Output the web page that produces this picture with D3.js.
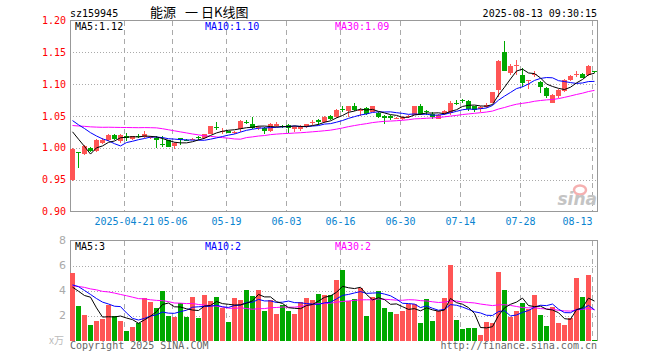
<!DOCTYPE html>
<html>
<head>
<meta charset="utf-8">
<script src="https://cdn.jsdelivr.net/npm/d3@7"></script>
<style>
body { margin: 0; background: #fff; }
svg { display: block; }
</style>
</head>
<body>
<svg></svg>
<script>
// trading days shown, 2025-04-08 .. 2025-08-13
const dates = [
	"2025-04-08","2025-04-09","2025-04-10","2025-04-11","2025-04-14","2025-04-15","2025-04-16","2025-04-17","2025-04-18",
	"2025-04-21","2025-04-22","2025-04-23","2025-04-24","2025-04-25","2025-04-28","2025-04-29","2025-04-30",
	"2025-05-06","2025-05-07","2025-05-08","2025-05-09","2025-05-12","2025-05-13","2025-05-14","2025-05-15","2025-05-16",
	"2025-05-19","2025-05-20","2025-05-21","2025-05-22","2025-05-23","2025-05-26","2025-05-27","2025-05-28","2025-05-29","2025-05-30",
	"2025-06-03","2025-06-04","2025-06-05","2025-06-06","2025-06-09","2025-06-10","2025-06-11","2025-06-12","2025-06-13",
	"2025-06-16","2025-06-17","2025-06-18","2025-06-19","2025-06-20","2025-06-23","2025-06-24","2025-06-25","2025-06-26","2025-06-27",
	"2025-06-30","2025-07-01","2025-07-02","2025-07-03","2025-07-04","2025-07-07","2025-07-08","2025-07-09","2025-07-10","2025-07-11",
	"2025-07-14","2025-07-15","2025-07-16","2025-07-17","2025-07-18","2025-07-21","2025-07-22","2025-07-23","2025-07-24","2025-07-25",
	"2025-07-28","2025-07-29","2025-07-30","2025-07-31","2025-08-01","2025-08-04","2025-08-05","2025-08-06","2025-08-07","2025-08-08",
	"2025-08-11","2025-08-12","2025-08-13"
];

const opens = [
	0.950,0.993,0.990,1.000,0.995,1.008,1.012,1.020,1.010,1.019,
	1.014,1.018,1.017,1.015,1.016,1.006,1.012,1.003,1.015,1.013,
	1.013,1.017,1.015,1.022,1.033,1.026,1.026,1.024,1.029,1.041,
	1.038,1.031,1.031,1.026,1.034,1.035,1.036,1.029,1.030,1.032,
	1.040,1.044,1.040,1.050,1.048,1.061,1.058,1.066,1.058,1.062,
	1.057,1.054,1.050,1.050,1.046,1.045,1.049,1.052,1.065,1.058,
	1.053,1.046,1.053,1.054,1.071,1.075,1.074,1.065,1.061,1.064,
	1.071,1.091,1.150,1.117,1.129,1.115,1.105,1.115,1.104,1.094,
	1.071,1.082,1.089,1.106,1.115,1.116,1.114,1.120
];
const closes = [
	0.998,0.992,1.003,0.995,1.012,1.013,1.020,1.014,1.020,1.016,
	1.018,1.017,1.022,1.017,1.012,1.005,1.002,1.008,1.012,1.012,
	1.014,1.016,1.021,1.034,1.032,1.027,1.024,1.025,1.042,1.040,
	1.031,1.032,1.026,1.038,1.037,1.034,1.031,1.032,1.034,1.037,
	1.041,1.040,1.049,1.045,1.060,1.060,1.065,1.059,1.060,1.053,
	1.065,1.049,1.047,1.047,1.047,1.049,1.050,1.065,1.053,1.057,
	1.048,1.052,1.058,1.071,1.070,1.074,1.061,1.060,1.064,1.068,
	1.087,1.136,1.121,1.129,1.130,1.102,1.106,1.116,1.095,1.082,
	1.083,1.091,1.107,1.113,1.116,1.110,1.128,1.119
];
const highs = [
	1.000,0.994,1.005,1.002,1.014,1.016,1.021,1.021,1.022,1.023,
	1.019,1.021,1.026,1.019,1.018,1.019,1.013,1.009,1.016,1.014,
	1.015,1.018,1.022,1.035,1.040,1.031,1.027,1.027,1.044,1.043,
	1.048,1.034,1.032,1.039,1.040,1.036,1.037,1.034,1.036,1.038,
	1.043,1.045,1.050,1.052,1.061,1.066,1.066,1.071,1.062,1.064,
	1.066,1.056,1.051,1.051,1.048,1.050,1.051,1.066,1.069,1.060,
	1.056,1.053,1.059,1.073,1.075,1.077,1.075,1.066,1.065,1.070,
	1.088,1.138,1.168,1.131,1.138,1.125,1.107,1.120,1.105,1.095,
	1.084,1.092,1.108,1.114,1.120,1.117,1.130,1.121
];
const lows = [
	0.948,0.969,0.989,0.993,0.994,1.006,1.011,1.012,1.008,1.011,
	1.013,1.015,1.016,1.014,0.999,1.002,1.001,0.998,1.004,1.011,
	1.012,1.013,1.014,1.021,1.028,1.022,1.023,1.021,1.025,1.037,
	1.030,1.028,1.022,1.025,1.033,1.031,1.024,1.025,1.026,1.031,
	1.036,1.036,1.039,1.044,1.047,1.057,1.048,1.058,1.050,1.052,
	1.056,1.047,1.037,1.044,1.045,1.043,1.047,1.051,1.052,1.052,
	1.045,1.045,1.052,1.052,1.068,1.071,1.058,1.057,1.057,1.062,
	1.070,1.080,1.120,1.115,1.115,1.095,1.093,1.112,1.086,1.078,
	1.070,1.079,1.088,1.105,1.112,1.109,1.113,1.118
];
// volume, x万
const volumes = [
	5.39,2.75,2.08,1.23,1.60,1.71,2.88,2.00,1.60,0.80,
	1.07,1.41,3.39,3.07,2.59,3.95,2.00,1.87,2.99,1.87,
	3.47,1.79,3.68,3.20,3.47,2.61,1.52,3.39,3.28,4.08,
	3.60,4.08,2.40,3.28,2.16,2.88,2.40,2.16,3.12,3.44,
	3.28,3.76,3.68,3.68,4.88,5.68,3.17,3.36,4.21,2.00,
	3.52,4.00,2.64,2.32,2.16,2.40,2.93,2.93,1.44,3.36,
	1.60,2.40,3.39,6.08,1.68,0.96,1.04,1.04,0.48,1.52,
	1.44,5.52,4.08,1.92,2.40,3.04,2.53,3.68,2.08,1.20,
	2.72,1.44,1.28,1.84,5.04,3.52,5.28,0.08
];
// 29 sessions before the first candle (only feed the moving averages)
const priorCloses = [
	1.015,1.020,1.018,1.025,1.022,1.016,1.020,1.024,1.019,1.023,1.021,1.017,1.022,1.020,
	1.045,1.052,1.058,1.062,1.060,1.065,1.058,1.062,1.060,1.064,1.058,
	1.050,1.060,1.055,0.963
];
const priorVolumes = [
	5.1,4.3,4.8,3.9,5.4,4.2,4.7,5.0,3.8,4.5,4.9,4.1,5.2,4.0,4.6,4.4,5.1,
	3.4,2.9,3.2,
	4.2,5.1,4.4,4.9,4.55,
	4.4,3.78,1.9,5.88
];

const priceTicks = [0.90, 0.95, 1.00, 1.05, 1.10, 1.15, 1.20];
const volumeTicks = [2, 4, 6, 8];
const dateTicks = ["2025-04-21","2025-05-06","2025-05-19","2025-06-03","2025-06-16","2025-06-30","2025-07-14","2025-07-28","2025-08-13"];
const titleParts = ["能源", "一", "日K线图"];
const priceMaText = ["MA5:1.12", "MA10:1.10", "MA30:1.09"];
const volumeMaText = ["MA5:3", "MA10:2", "MA30:2"];
const maPeriods = [5, 10, 30];
const maColors = ["#000000", "#0000ff", "#ff00ff"];

const width = 660;
const height = 360;
const left = 70, right = 598;
const red = "#ff5555", green = "#00a800";
const mono = "'DejaVu Sans Mono', 'Liberation Mono', monospace";

const data = dates.map((d, i) => ({
	date: d, open: opens[i], close: closes[i], high: highs[i], low: lows[i], vol: volumes[i]
}));

function movingAvg(prior, values, n) {
	const all = prior.concat(values);
	return values.map((v, i) => {
		const end = i + prior.length + 1;
		return d3.mean(all.slice(end - n, end));
	});
}

const x = d3.scaleBand().domain(dates).range([left, right]);
const yPrice = d3.scaleLinear().domain([0.90, 1.20]).range([211.5, 20.5]);
const yVol = d3.scaleLinear().domain([0, 8]).range([340.5, 240.5]);

const svg = d3.select("svg")
	.attr("width", width)
	.attr("height", height)
	.style("font-family", mono);

function drawPanel(y, top, bottom, hTicks, withBottom) {
	let g = svg.append("g");
	// dotted horizontal grid
	g.selectAll(".hgrid")
		.data(hTicks)
		.enter()
		.append("line")
			.attr("x1", left).attr("x2", right)
			.attr("y1", (d) => Math.round(y(d)) + 0.5)
			.attr("y2", (d) => Math.round(y(d)) + 0.5)
			.attr("stroke", "#aaa")
			.attr("stroke-dasharray", "1,2")
			.attr("shape-rendering", "crispEdges");
	// dashed vertical grid
	g.selectAll(".vgrid")
		.data(dateTicks)
		.enter()
		.append("line")
			.attr("x1", (d) => x(d) + 0.5).attr("x2", (d) => x(d) + 0.5)
			.attr("y1", top).attr("y2", bottom)
			.attr("stroke", "#aaa")
			.attr("stroke-dasharray", "5,4")
			.attr("shape-rendering", "crispEdges");
	let frame = "M" + (left + 0.5) + "," + bottom + "V" + top + "H" + (right - 0.5) + "V" + bottom;
	if (withBottom) frame += "H" + (left + 0.5);
	g.append("path")
		.attr("d", frame)
		.attr("fill", "none")
		.attr("stroke", "#999")
		.attr("shape-rendering", "crispEdges");
}

drawPanel(yPrice, 20.5, 211.5, [0.95, 1.00, 1.05, 1.10, 1.15], true);
drawPanel(yVol, 240.5, 340.5, [2, 4, 6], false);

// sina watermark
svg.append("ellipse")
	.attr("cx", 580).attr("cy", 190).attr("rx", 6).attr("ry", 4.5)
	.attr("fill", "none").attr("stroke", "#f5b0b0").attr("stroke-width", 2.5);
svg.append("text")
	.attr("x", 597).attr("y", 205)
	.attr("text-anchor", "end")
	.style("font-family", "'DejaVu Sans', sans-serif")
	.style("font-size", "17px")
	.style("font-style", "italic")
	.style("font-weight", "bold")
	.attr("fill", "#c4c4c4")
	.text("sina");

// candles
const candles = svg.append("g").attr("shape-rendering", "crispEdges");
const isUp = (d) => d.close >= d.open;
candles.selectAll(".wick")
	.data(data)
	.enter()
	.append("line")
		.attr("x1", (d) => x(d.date) + 2.5).attr("x2", (d) => x(d.date) + 2.5)
		.attr("y1", (d) => yPrice(d.high)).attr("y2", (d) => yPrice(d.low))
		.attr("stroke", (d) => isUp(d) ? red : green);
candles.selectAll(".body")
	.data(data)
	.enter()
	.append("rect")
		.attr("x", (d) => x(d.date))
		.attr("width", x.bandwidth() - 1)
		.attr("y", (d) => yPrice(Math.max(d.open, d.close)))
		.attr("height", (d) => Math.max(1, Math.abs(yPrice(d.open) - yPrice(d.close))))
		.attr("fill", (d) => isUp(d) ? red : green);

// volume bars
svg.append("g").attr("shape-rendering", "crispEdges")
	.selectAll("rect")
	.data(data)
	.enter()
	.append("rect")
		.attr("x", (d) => x(d.date))
		.attr("width", x.bandwidth() - 1)
		.attr("y", (d) => yVol(d.vol))
		.attr("height", (d) => yVol(0) - yVol(d.vol))
		.attr("fill", (d) => isUp(d) ? red : green);

// moving averages
function drawMas(prior, values, y) {
	[2, 1, 0].forEach((k) => {
		let ma = movingAvg(prior, values, maPeriods[k]);
		let line = d3.line()
			.x((d, i) => x(dates[i]) + 2.5)
			.y((d) => y(d));
		svg.append("path")
			.attr("d", line(ma))
			.attr("fill", "none")
			.attr("stroke", maColors[k])
			.attr("stroke-width", 1);
	});
}
drawMas(priorCloses, closes, yPrice);
drawMas(priorVolumes, volumes, yVol);

// MA legends
const maX = [75, 205, 335];
function drawMaText(texts, y) {
	svg.selectAll(null)
		.data(texts)
		.enter()
		.append("text")
			.attr("x", (d, i) => maX[i])
			.attr("y", y)
			.style("font-size", "10px")
			.attr("fill", (d, i) => maColors[i])
			.text((d) => d);
}
drawMaText(priceMaText, 30);
drawMaText(volumeMaText, 250);

// price axis labels
svg.selectAll(".plabel")
	.data(priceTicks)
	.enter()
	.append("text")
		.attr("x", 66)
		.attr("y", (d) => yPrice(d))
		.attr("dy", "0.35em")
		.attr("text-anchor", "end")
		.style("font-size", "10px")
		.attr("fill", "#ff0000")
		.text((d) => d.toFixed(2));

// volume axis labels
svg.selectAll(".vlabel")
	.data(volumeTicks)
	.enter()
	.append("text")
		.attr("x", 66)
		.attr("y", (d) => yVol(d))
		.attr("dy", "0.35em")
		.attr("text-anchor", "end")
		.style("font-family", "'DejaVu Sans', sans-serif")
		.style("font-size", "11px")
		.attr("fill", "#aaa")
		.text((d) => d);
svg.append("text")
	.attr("x", 64).attr("y", 344)
	.attr("text-anchor", "end")
	.style("font-family", "'Noto Sans CJK SC', sans-serif")
	.style("font-size", "10px")
	.attr("fill", "#bbb")
	.text("x万");

// date labels
svg.selectAll(".dlabel")
	.data(dateTicks)
	.enter()
	.append("text")
		.attr("x", (d) => x(d) + 0.5)
		.attr("y", 225)
		.attr("text-anchor", (d, i) => i === dateTicks.length - 1 ? "end" : "middle")
		.style("font-size", "10px")
		.attr("fill", "#0a84d0")
		.text((d, i) => i === 0 ? d : d.slice(5));

// header
svg.append("text")
	.attr("x", 70).attr("y", 17)
	.style("font-size", "10px")
	.attr("fill", "#000")
	.text("sz159945");
const titleX = [150, 185, 201];
svg.selectAll(".title")
	.data(titleParts)
	.enter()
	.append("text")
		.attr("x", (d, i) => titleX[i])
		.attr("y", 17)
		.style("font-family", "'Noto Sans CJK SC', sans-serif")
		.style("font-size", "13px")
		.attr("fill", "#000")
		.text((d) => d);
svg.append("text")
	.attr("x", 597).attr("y", 17)
	.attr("text-anchor", "end")
	.style("font-size", "10px")
	.attr("fill", "#000")
	.text("2025-08-13 09:30:15");

// footer
svg.append("text")
	.attr("x", 70).attr("y", 349)
	.style("font-size", "10px")
	.attr("fill", "#666")
	.text("Copyright 2025 SINA.COM");
svg.append("text")
	.attr("x", 597).attr("y", 349)
	.attr("text-anchor", "end")
	.style("font-size", "10px")
	.attr("fill", "#666")
	.text("http://finance.sina.com.cn");
</script>
</body>
</html>
